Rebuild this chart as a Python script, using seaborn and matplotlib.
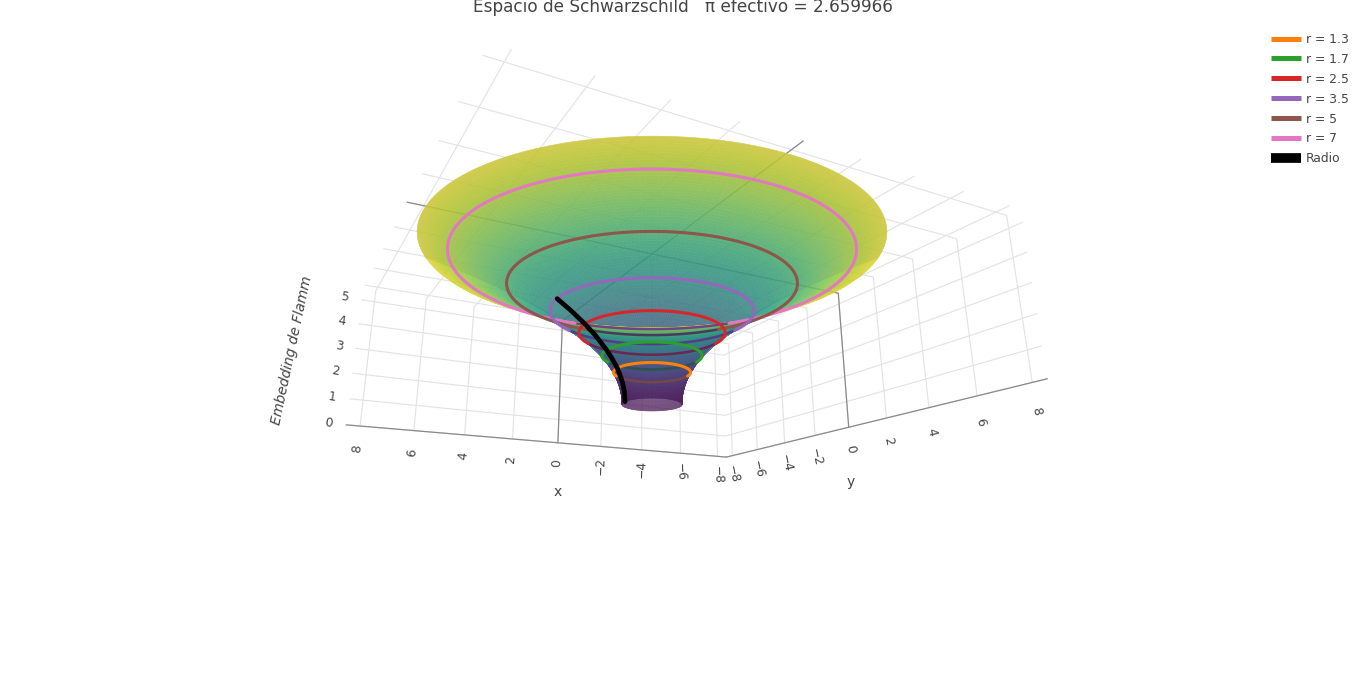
import numpy as np
import matplotlib
matplotlib.use('Agg')
import matplotlib.pyplot as plt
from matplotlib.lines import Line2D
from mpl_toolkits.mplot3d import proj3d
import seaborn as sns

# radial profile of the embedding
profile_r = [1.0, 1.01, 1.03, 1.06, 1.1, 1.15, 1.2, 1.25, 1.3, 1.4, 1.5, 1.6, 1.7, 1.8, 1.9, 2.0, 2.1, 2.2, 2.3, 2.4,
             2.5, 2.6, 2.7, 2.8, 2.9, 3.0, 3.1, 3.2, 3.3, 3.4, 3.5, 3.6, 3.7, 3.8, 3.9, 4.0, 4.1, 4.2, 4.3, 4.4,
             4.5, 4.6, 4.7, 4.8, 4.9, 5.0, 5.1, 5.2, 5.3, 5.4, 5.5, 5.6, 5.7, 5.8, 5.9, 6.0, 6.1, 6.2, 6.3, 6.4,
             6.5, 6.6, 6.7, 6.8, 6.9, 7.0, 7.1, 7.2, 7.3, 7.4, 7.5, 7.6, 7.7, 7.8, 7.9, 8.0]
profile_z = [0.0, 0.2, 0.35, 0.49, 0.63, 0.77, 0.89, 1.0, 1.1, 1.26, 1.41, 1.55, 1.67, 1.79, 1.9, 2.0, 2.1, 2.19, 2.28,
             2.37, 2.45, 2.53, 2.61, 2.68, 2.76, 2.83, 2.9, 2.97, 3.03, 3.1, 3.16, 3.22, 3.29, 3.35, 3.41, 3.46, 3.52,
             3.58, 3.63, 3.69, 3.74, 3.79, 3.85, 3.9, 3.95, 4.0, 4.05, 4.1, 4.15, 4.2, 4.24, 4.29, 4.34, 4.38, 4.43,
             4.47, 4.52, 4.56, 4.6, 4.65, 4.69, 4.73, 4.77, 4.82, 4.86, 4.9, 4.94, 4.98, 5.02, 5.06, 5.1, 5.14, 5.18,
             5.22, 5.25, 5.29]

ring_r = [1.3, 1.7, 2.5, 3.5, 5, 7]
ring_z = [1.1, 1.67, 2.45, 3.16, 4.0, 4.9]
ring_labels = ['r = 1.3', 'r = 1.7', 'r = 2.5', 'r = 3.5', 'r = 5', 'r = 7']

radio_r = [1.0, 1.03, 1.1, 1.2, 1.3, 1.5, 1.7, 2.1, 2.5, 3.0, 3.5]
radio_z = [0.0, 0.35, 0.63, 0.89, 1.1, 1.41, 1.67, 2.1, 2.45, 2.83, 3.16]

ticks_xy = [-8, -6, -4, -2, 0, 2, 4, 6, 8]
ticks_z = [0, 1, 2, 3, 4, 5]

LIM = 8.5
ZTOP = 5.45
AZIM = 62
ELEV = -18
GREY = '#444444'

sns.set_theme(style='white')
plt.rcParams['font.family'] = ['DejaVu Sans']

fig = plt.figure(figsize=(13.66, 6.74), dpi=100)
W, H = 1366, 674
size = 900
cx, cy = 652, 327
ax = fig.add_axes([(cx - 0.5135 * size) / W, 1 - (cy + 0.5135 * size) / H, size / W, size / H], projection='3d',
                  computed_zorder=False)
ax.set_xlim(-LIM, LIM, view_margin=0)
ax.set_ylim(-LIM, LIM, view_margin=0)
ax.set_zlim(0, ZTOP, view_margin=0)
ax.set_box_aspect((2 * LIM, 2 * LIM, ZTOP), zoom=0.773)
ax.view_init(elev=ELEV, azim=AZIM)
ax.set_proj_type('persp', focal_length=0.1617)
ax.patch.set_alpha(0)

for axis in (ax.xaxis, ax.yaxis, ax.zaxis):
    axis.set_pane_color((1, 1, 1, 0))
    axis.pane.set_edgecolor((1, 1, 1, 0))
    axis.line.set_color((1, 1, 1, 0))
    axis._axinfo['grid'].update(color='#e2e2e2', linewidth=0.8)
    axis._axinfo['tick'].update(inward_factor=0, outward_factor=0)
ax.set_xticks(ticks_xy)
ax.set_yticks(ticks_xy)
ax.set_zticks(ticks_z)
ax.set_xticklabels([])
ax.set_yticklabels([])
ax.set_zticklabels([])

# dark edges and zero lines of the back planes
edge = dict(color='#8a8a8a', lw=0.9, zorder=1)
ax.plot([-LIM, LIM], [-LIM, -LIM], [0, 0], **edge)
ax.plot([-LIM, -LIM], [-LIM, LIM], [0, 0], **edge)
ax.plot([0, 0], [-LIM, -LIM], [0, ZTOP], **edge)
ax.plot([-LIM, -LIM], [0, 0], [0, ZTOP], **edge)
ax.plot([0, 0], [-LIM, LIM], [ZTOP, ZTOP], **edge)
ax.plot([-LIM, LIM], [0, 0], [ZTOP, ZTOP], **edge)

# surface, split in far and near half so rings can sit between them
cmap = sns.color_palette('viridis', as_cmap=True)
r = np.array(profile_r)
z = np.array(profile_z)
tint = np.array([103, 128, 110]) / 255


def fader(opacity):
    # whole surface gets one opacity, so the small polygons leave no seams
    def fade(img, dpi):
        img = img.copy()
        img[..., 3] *= opacity
        return img, 0, 0
    return fade


def half_surface(t0, zorder, opacity, mix, first=0, last=None):
    th = np.deg2rad(np.linspace(t0, t0 + 180, 121))
    R, T = np.meshgrid(r[first:last], th)
    Z = np.tile(z[first:last], (len(th), 1))
    cols = cmap((Z / z.max()) ** 1.3)
    cols[..., :3] = (1 - mix) * cols[..., :3] + mix * tint
    surf = ax.plot_surface(R * np.cos(T), R * np.sin(T), Z, facecolors=cols, rcount=Z.shape[0], ccount=Z.shape[1],
                           shade=False, linewidth=0.4, antialiased=True, zorder=zorder)
    surf.set_agg_filter(fader(opacity))


near_start = AZIM - 90
far_start = AZIM + 90
# the far half lies over the near one, as in the reference; its throat stays lighter
half_surface(near_start, 2, 0.95, 0.32)
half_surface(far_start, 3, 0.88, 0.2, last=9)
half_surface(far_start, 3, 0.93, 0.2, first=8)

ring_colors = sns.color_palette('tab10')[1:7]
# how far the bright part of each ring runs past the near half, in degrees
bright_extra = [20, 25, 25, 30, 58, 62]
shade = np.array([45, 40, 100]) / 255
# outer rings first, so the inner ones stay on top
for rr, zz, col, extra in reversed(list(zip(ring_r, ring_z, ring_colors, bright_extra))):
    far = np.deg2rad(np.linspace(far_start + extra, far_start + 180 - extra, 90))
    near = np.deg2rad(np.linspace(near_start - extra, near_start + 180 + extra, 120))
    ax.plot(rr * np.cos(far), rr * np.sin(far), np.full(90, zz), color=0.35 * np.array(col) + 0.65 * shade, lw=1.8,
            zorder=4)
    ax.plot(rr * np.cos(near), rr * np.sin(near), np.full(120, zz), color=col, lw=2.2, zorder=5)

ax.plot(radio_r, np.zeros(len(radio_r)), radio_z, color='black', lw=3.4, zorder=6)


def label3d(x, y, z3, text, rotation):
    # rotation is ignored by 3d text, so place it as 2d text at the projected point
    px, py, _ = proj3d.proj_transform(x, y, z3, ax.get_proj())
    ax.text2D(px, py, text, transform=ax.transData, rotation=rotation, rotation_mode='anchor', ha='center',
              va='center', fontsize=8.8, color=GREY)


# tick labels
xrot = {8: 84, 6: 84, 4: 84, 2: 86, 0: 88, -2: 88, -4: 88, -6: -88, -8: -88}
for t in ticks_xy:
    lab = str(t).replace('-', '\u2212')
    label3d(t, -LIM, -0.85, lab, xrot[t])
    label3d(-LIM, t, -0.85, lab, -78)
for t in ticks_z:
    label3d(LIM + 0.6, -LIM, t, str(t), -8)

fig.text(558 / W, 1 - 492 / H, 'x', ha='center', va='center', fontsize=10, color=GREY)
fig.text(851 / W, 1 - 482 / H, 'y', ha='center', va='center', fontsize=10, color=GREY)
fig.text(292 / W, 1 - 350 / H, 'Embedding de Flamm', rotation=78, style='italic', ha='center', va='center',
         fontsize=10, color=GREY)
fig.text(683 / W, 1 - 7 / H, 'Espacio de Schwarzschild   \u03c0 efectivo = 2.659966', ha='center', va='center',
         fontsize=12.2, color=GREY)

handles = [Line2D([], [], color=c, lw=3.6, solid_capstyle='butt') for c in ring_colors]
handles.append(Line2D([], [], color='black', lw=7, solid_capstyle='butt'))
fig.legend(handles, ring_labels + ['Radio'], loc='upper left', bbox_to_anchor=(1261 / W, 1 - 23 / H), frameon=False,
           fontsize=8.9, labelcolor=GREY, handlelength=2.43, handletextpad=0.42, labelspacing=0.56, borderpad=0.3)

fig.savefig('out.png', dpi=100)
